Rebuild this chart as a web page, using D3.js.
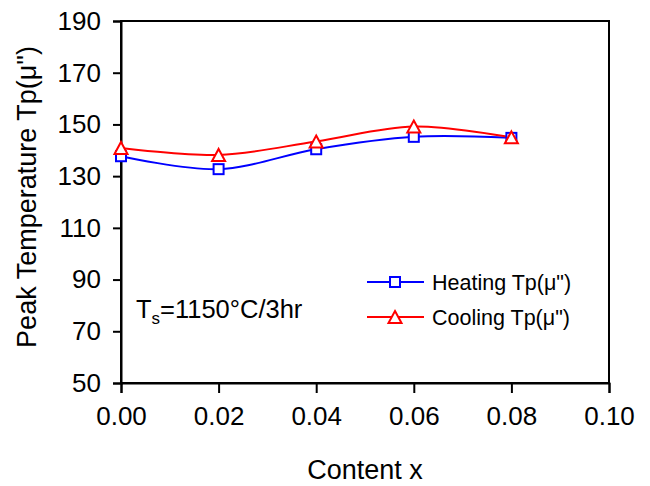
<!DOCTYPE html>
<html><head><meta charset="utf-8">
<script src="https://cdn.jsdelivr.net/npm/d3@7"></script>
<style>
html,body{margin:0;padding:0;background:#fff;}
text{font-family:"Liberation Sans",Arial,sans-serif;fill:#000;}
</style></head>
<body>
<svg id="chart" width="650" height="486"></svg>
<script>
const contentX = [0.00, 0.02, 0.04, 0.06, 0.08];
const heatingTp = [137.7, 132.7, 140.4, 145.2, 144.8];
const coolingTp = [140.9, 138.2, 143.4, 149.2, 145.0];
const xTicks = [0.00, 0.02, 0.04, 0.06, 0.08, 0.10];
const yTicks = [50, 70, 90, 110, 130, 150, 170, 190];
const seriesNames = ['Heating Tp(μ")', 'Cooling Tp(μ")'];

const svg = d3.select("#chart");
const L = 121, R = 609, T = 21, B = 383;
const x = d3.scaleLinear().domain([0, 0.10]).range([L, R]);
const y = d3.scaleLinear().domain([50, 190]).range([B, T]);

// frame
svg.append("rect").attr("x", L).attr("y", T).attr("width", R - L).attr("height", B - T)
  .attr("fill", "none").attr("stroke", "#000").attr("stroke-width", 2);

// axes
const xAxis = svg.append("g").attr("transform", `translate(0,${B})`)
  .call(d3.axisBottom(x).tickValues(xTicks).tickSize(10).tickPadding(14).tickFormat(d3.format(".2f")));
const yAxis = svg.append("g").attr("transform", `translate(${L},0)`)
  .call(d3.axisLeft(y).tickValues(yTicks).tickSize(8).tickPadding(12).tickFormat(d3.format("d")));
[xAxis, yAxis].forEach(g => {
  g.select(".domain").attr("stroke", "#000").attr("stroke-width", 2);
  g.selectAll(".tick line").attr("stroke", "#000").attr("stroke-width", 2);
  g.selectAll(".tick text").attr("font-size", 26).attr("font-family", '"Liberation Sans",Arial,sans-serif').attr("fill", "#000");
});
xAxis.selectAll(".tick text").attr("dy", "0.71em");

// titles
svg.append("text").attr("x", 365).attr("y", 479).attr("text-anchor", "middle")
  .attr("font-size", 27).text("Content x");
svg.append("text").attr("transform", "translate(36,197) rotate(-90)").attr("text-anchor", "middle")
  .attr("font-size", 27).text('Peak Temperature Tp(μ")');

// lines
const line = d3.line().x((d, i) => x(contentX[i])).y(d => y(d)).curve(d3.curveCardinal.tension(0));
const colors = ["#0000ff", "#ff0000"];
[heatingTp, coolingTp].forEach((s, k) => {
  svg.append("path").datum(s).attr("d", line).attr("fill", "none")
    .attr("stroke", colors[k]).attr("stroke-width", 2);
});

const sq = 10;
function square(g, cx, cy, c) {
  g.append("rect").attr("x", cx - sq / 2).attr("y", cy - sq / 2).attr("width", sq).attr("height", sq)
    .attr("fill", "#fff").attr("stroke", c).attr("stroke-width", 2);
}
function tri(g, cx, cy, c) {
  const w = 13, h = 12;
  g.append("path").attr("d", `M${cx},${cy - h / 2}L${cx + w / 2},${cy + h / 2}L${cx - w / 2},${cy + h / 2}Z`)
    .attr("fill", "#fff").attr("stroke", c).attr("stroke-width", 2);
}
heatingTp.forEach((v, i) => square(svg, x(contentX[i]), y(v), colors[0]));
coolingTp.forEach((v, i) => tri(svg, x(contentX[i]), y(v), colors[1]));

// legend
const legY = [282, 317];
seriesNames.forEach((n, k) => {
  svg.append("line").attr("x1", 367).attr("x2", 424).attr("y1", legY[k]).attr("y2", legY[k])
    .attr("stroke", colors[k]).attr("stroke-width", 2);
  if (k === 0) square(svg, 395, legY[k], colors[k]); else tri(svg, 395, legY[k], colors[k]);
  svg.append("text").attr("x", 432).attr("y", legY[k]).attr("dy", "0.35em").attr("font-size", 21.5).text(n);
});

// annotation
const ann = svg.append("text").attr("x", 136).attr("y", 318).attr("font-size", 25.5);
ann.append("tspan").text("T");
ann.append("tspan").attr("font-size", 17).attr("dy", 6).text("s");
ann.append("tspan").attr("dy", -6).text("=1150°C/3hr");
</script>
</body></html>
